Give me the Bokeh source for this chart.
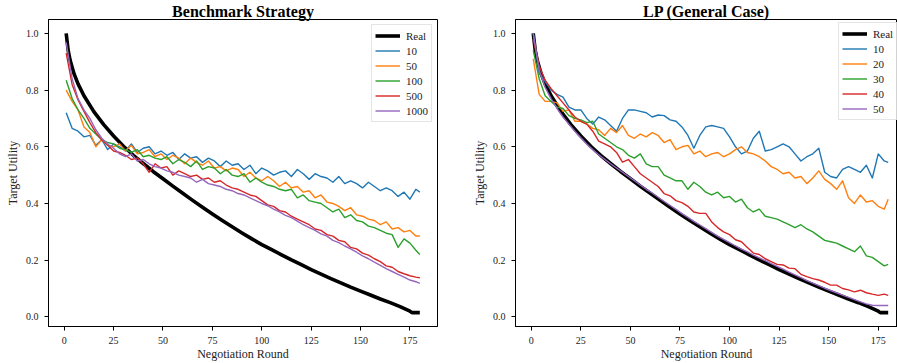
from bokeh.plotting import figure
from bokeh.layouts import row
from bokeh.models import FixedTicker, NumeralTickFormatter, Range1d
from bokeh.embed import file_html
from bokeh.resources import INLINE

FONT = "Liberation Serif"
COLORS = ["#1f77b4", "#ff7f0e", "#2ca02c", "#d62728", "#9467bd"]

# ---- data ----
real_rounds = [1, 2, 3, 5, 7, 10, 15, 20, 25, 30, 35, 40, 45, 50, 55, 60, 65, 70, 75, 80,
               85, 90, 95, 100, 105, 110, 115, 120, 125, 130, 135, 140, 145, 150, 155, 160,
               165, 170, 175, 176, 180]
real_util = [1.0, 0.94, 0.905, 0.857, 0.822, 0.78, 0.724, 0.678, 0.638, 0.602, 0.57, 0.541,
             0.513, 0.487, 0.461, 0.436, 0.411, 0.387, 0.363, 0.34, 0.318, 0.296, 0.275,
             0.255, 0.237, 0.219, 0.201, 0.184, 0.167, 0.151, 0.135, 0.12, 0.105, 0.091,
             0.077, 0.063, 0.05, 0.036, 0.02, 0.015, 0.015]

rounds = list(range(1, 179, 3)) + [180]

bench_labels = ["10", "50", "100", "500", "1000"]
bench_10 = [0.72, 0.665, 0.655, 0.635, 0.64, 0.605, 0.625, 0.59, 0.61, 0.60,
            0.585, 0.61, 0.58, 0.595, 0.60, 0.575, 0.585, 0.57, 0.58, 0.555,
            0.575, 0.56, 0.565, 0.545, 0.56, 0.55, 0.53, 0.55, 0.535, 0.54,
            0.52, 0.535, 0.505, 0.525, 0.515, 0.50, 0.51, 0.515, 0.495, 0.52,
            0.505, 0.485, 0.505, 0.495, 0.49, 0.475, 0.495, 0.47, 0.48, 0.47,
            0.455, 0.475, 0.46, 0.445, 0.455, 0.445, 0.425, 0.44, 0.415, 0.45,
            0.44]
bench_50 = [0.80, 0.76, 0.73, 0.67, 0.65, 0.60, 0.625, 0.605, 0.60, 0.61,
            0.585, 0.605, 0.575, 0.58, 0.59, 0.565, 0.575, 0.555, 0.57, 0.56,
            0.54, 0.56, 0.545, 0.535, 0.55, 0.525, 0.53, 0.515, 0.525, 0.52,
            0.495, 0.51, 0.49, 0.48, 0.495, 0.48, 0.46, 0.475, 0.455, 0.46,
            0.44, 0.445, 0.42, 0.43, 0.405, 0.40, 0.39, 0.375, 0.385, 0.36,
            0.355, 0.345, 0.34, 0.325, 0.335, 0.31, 0.315, 0.30, 0.305, 0.285,
            0.285]
bench_100 = [0.835, 0.77, 0.73, 0.70, 0.665, 0.645, 0.625, 0.615, 0.61, 0.595,
             0.59, 0.58, 0.59, 0.565, 0.57, 0.56, 0.555, 0.565, 0.54, 0.555,
             0.545, 0.53, 0.55, 0.52, 0.53, 0.525, 0.505, 0.52, 0.50, 0.495,
             0.505, 0.475, 0.49, 0.475, 0.465, 0.46, 0.45, 0.445, 0.45, 0.42,
             0.43, 0.41, 0.405, 0.40, 0.385, 0.37, 0.38, 0.35, 0.36, 0.34,
             0.335, 0.32, 0.315, 0.305, 0.295, 0.29, 0.245, 0.275, 0.26, 0.235,
             0.22]
bench_500 = [0.93, 0.82, 0.765, 0.725, 0.685, 0.65, 0.625, 0.605, 0.585, 0.58,
             0.57, 0.555, 0.56, 0.54, 0.51, 0.54, 0.525, 0.53, 0.50, 0.515,
             0.505, 0.495, 0.50, 0.485, 0.49, 0.475, 0.48, 0.465, 0.455, 0.45,
             0.44, 0.43, 0.425, 0.41, 0.395, 0.39, 0.375, 0.37, 0.355, 0.345,
             0.335, 0.325, 0.31, 0.305, 0.29, 0.285, 0.27, 0.265, 0.245, 0.24,
             0.225, 0.218, 0.205, 0.195, 0.18, 0.175, 0.16, 0.152, 0.145, 0.14,
             0.138]
bench_1000 = [0.968, 0.84, 0.77, 0.73, 0.70, 0.66, 0.63, 0.61, 0.595, 0.575,
              0.565, 0.575, 0.55, 0.555, 0.54, 0.53, 0.525, 0.515, 0.51, 0.50,
              0.495, 0.49, 0.475, 0.485, 0.47, 0.465, 0.46, 0.45, 0.445, 0.435,
              0.43, 0.42, 0.41, 0.40, 0.392, 0.38, 0.37, 0.358, 0.35, 0.338,
              0.325, 0.315, 0.305, 0.293, 0.285, 0.27, 0.262, 0.25, 0.24, 0.228,
              0.215, 0.205, 0.193, 0.182, 0.17, 0.16, 0.15, 0.14, 0.13, 0.124,
              0.118]

lp_labels = ["10", "20", "30", "40", "50"]
lp_10 = [1.0, 0.86, 0.83, 0.80, 0.785, 0.775, 0.74, 0.73, 0.73, 0.70,
         0.68, 0.705, 0.695, 0.675, 0.655, 0.70, 0.73, 0.73, 0.725, 0.72,
         0.705, 0.712, 0.71, 0.695, 0.69, 0.67, 0.64, 0.595, 0.64, 0.67,
         0.675, 0.67, 0.665, 0.635, 0.60, 0.575, 0.585, 0.63, 0.655, 0.585,
         0.59, 0.60, 0.61, 0.60, 0.575, 0.55, 0.565, 0.575, 0.595, 0.51,
         0.495, 0.49, 0.52, 0.53, 0.52, 0.51, 0.535, 0.49, 0.575, 0.55,
         0.545]
lp_20 = [0.91, 0.785, 0.76, 0.76, 0.755, 0.725, 0.73, 0.69, 0.69, 0.68,
         0.665, 0.66, 0.64, 0.665, 0.65, 0.675, 0.64, 0.63, 0.645, 0.635,
         0.65, 0.64, 0.615, 0.625, 0.59, 0.60, 0.605, 0.575, 0.585, 0.565,
         0.575, 0.58, 0.565, 0.575, 0.59, 0.60, 0.58, 0.575, 0.565, 0.55,
         0.53, 0.52, 0.505, 0.51, 0.49, 0.495, 0.47, 0.49, 0.515, 0.485,
         0.47, 0.45, 0.48, 0.42, 0.40, 0.43, 0.405, 0.41, 0.39, 0.38,
         0.415]
lp_30 = [0.94, 0.84, 0.78, 0.76, 0.74, 0.735, 0.71, 0.70, 0.695, 0.685,
         0.69, 0.645, 0.63, 0.615, 0.60, 0.59, 0.57, 0.56, 0.575, 0.54,
         0.53, 0.53, 0.50, 0.49, 0.48, 0.48, 0.45, 0.475, 0.46, 0.44,
         0.43, 0.44, 0.42, 0.425, 0.405, 0.415, 0.385, 0.37, 0.38, 0.355,
         0.35, 0.345, 0.335, 0.325, 0.315, 0.325, 0.31, 0.30, 0.285, 0.27,
         0.265, 0.26, 0.25, 0.24, 0.23, 0.25, 0.215, 0.21, 0.195, 0.18,
         0.185]
lp_40 = [0.98, 0.885, 0.835, 0.805, 0.78, 0.755, 0.73, 0.705, 0.69, 0.68,
         0.655, 0.62, 0.61, 0.60, 0.58, 0.546, 0.555, 0.53, 0.505, 0.49,
         0.475, 0.46, 0.435, 0.427, 0.41, 0.403, 0.39, 0.37, 0.365, 0.365,
         0.335, 0.315, 0.30, 0.29, 0.272, 0.265, 0.245, 0.225, 0.22, 0.205,
         0.195, 0.185, 0.183, 0.172, 0.17, 0.15, 0.142, 0.135, 0.13, 0.122,
         0.112, 0.112, 0.10, 0.095, 0.088, 0.094, 0.085, 0.08, 0.076, 0.08,
         0.076]
lp_50 = [1.0, 0.87, 0.81, 0.77, 0.735, 0.705, 0.68, 0.655, 0.632, 0.61,
         0.59, 0.572, 0.556, 0.54, 0.525, 0.51, 0.495, 0.48, 0.465, 0.45,
         0.437, 0.422, 0.407, 0.393, 0.379, 0.364, 0.351, 0.337, 0.324, 0.311,
         0.298, 0.285, 0.273, 0.262, 0.25, 0.239, 0.229, 0.218, 0.208, 0.198,
         0.188, 0.178, 0.168, 0.158, 0.148, 0.138, 0.128, 0.119, 0.11, 0.101,
         0.093, 0.085, 0.077, 0.069, 0.061, 0.053, 0.046, 0.041, 0.04, 0.04,
         0.04]

x_ticks = [0, 25, 50, 75, 100, 125, 150, 175]
y_ticks = [0.0, 0.2, 0.4, 0.6, 0.8, 1.0]
x_label = "Negotiation Round"
y_label = "Target Utility"


def make_fig(title, width, b_left, b_right, x_end, series, labels,
             title_offset=0, legend_loc="top_right"):
    p = figure(width=width, height=363, output_backend="svg", toolbar_location=None,
               x_range=Range1d(-7.95, x_end), y_range=Range1d(-0.034, 1.049),
               min_border_left=b_left, min_border_right=b_right,
               min_border_top=0, min_border_bottom=37)
    p.title.text = title
    p.title.text_font = FONT
    p.title.text_font_size = "16px"
    p.title.text_font_style = "bold"
    p.title.text_color = "black"
    p.title.align = "center"
    p.title.standoff = 0
    p.title.offset = title_offset
    p.grid.visible = False
    p.outline_line_color = "black"
    p.outline_line_alpha = 1.0
    p.outline_line_width = 1
    p.background_fill_color = "white"
    p.border_fill_color = "white"

    p.xaxis.ticker = FixedTicker(ticks=x_ticks)
    p.yaxis.ticker = FixedTicker(ticks=y_ticks)
    p.yaxis.formatter = NumeralTickFormatter(format="0.0")
    p.xaxis.axis_label = x_label
    p.yaxis.axis_label = y_label
    for ax in (p.xaxis, p.yaxis):
        ax.major_label_text_font = FONT
        ax.major_label_text_font_size = "10px"
        ax.major_label_text_color = "#222222"
        ax.major_label_text_line_height = 1.0
        ax.axis_label_text_font = FONT
        ax.axis_label_text_font_size = "12px"
        ax.axis_label_text_font_style = "normal"
        ax.axis_label_text_color = "#222222"
        ax.axis_label_text_line_height = 1.0
        ax.minor_tick_line_color = None
        ax.major_tick_in = 0
        ax.major_tick_out = 4
        ax.major_tick_line_color = "black"
        ax.axis_line_color = "black"
        ax.major_label_standoff = 6
    p.xaxis.axis_label_standoff = 0
    p.yaxis.axis_label_standoff = 3

    p.line(real_rounds, real_util, line_color="black", line_width=3.6,
           line_join="round", legend_label="Real")
    for vals, lab, col in zip(series, labels, COLORS):
        p.line(rounds, vals, line_color=col, line_width=1.4, line_join="round",
               legend_label=lab)

    lg = p.legend[0]
    lg.location = legend_loc
    lg.margin = 5
    lg.padding = 3
    lg.spacing = 0
    lg.glyph_width = 25
    lg.glyph_height = 15
    lg.label_height = 15
    lg.label_standoff = 6
    lg.label_text_font = FONT
    lg.label_text_font_size = "11px"
    lg.label_text_color = "#222222"
    lg.border_line_color = "#cccccc"
    lg.border_line_width = 1
    lg.background_fill_alpha = 0.85
    return p


p1 = make_fig("Benchmark Strategy", 450, 48, 13, 188.95,
              [bench_10, bench_50, bench_100, bench_500, bench_1000], bench_labels)
p2 = make_fig("LP (General Case)", 447, 65, 0, 184.7,
              [lp_10, lp_20, lp_30, lp_40, lp_50], lp_labels, title_offset=3,
              legend_loc=(323, 206))

layout = row(p1, p2)
open("out.html", "w").write(file_html(layout, INLINE))
